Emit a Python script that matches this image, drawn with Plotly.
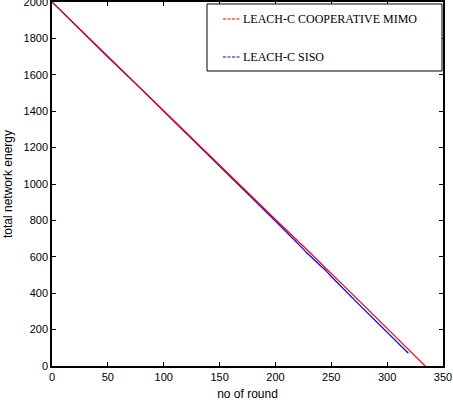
import plotly.graph_objects as go

rounds_mimo = [0, 25, 50, 75, 100, 125, 150, 175, 200, 225, 250, 258, 275, 300, 325, 334]
energy_mimo = [2000, 1850, 1700, 1552, 1402, 1253, 1103, 953, 805, 658, 510, 462, 358, 207, 55, 0]

rounds_siso = [0, 25, 50, 75, 100, 125, 150, 175, 200, 225, 228, 245, 250, 275, 300, 319]
energy_siso = [2000, 1848, 1698, 1550, 1400, 1250, 1100, 950, 797, 642, 622, 525, 492, 337, 185, 70]

legend_labels = ["LEACH-C COOPERATIVE MIMO", "LEACH-C SISO"]
colors = ["#ff0000", "#0000ff"]

fig = go.Figure()
fig.add_trace(go.Scatter(x=rounds_siso, y=energy_siso, mode="lines",
                         line=dict(color=colors[1], width=1.2), showlegend=False))
fig.add_trace(go.Scatter(x=rounds_mimo, y=energy_mimo, mode="lines",
                         line=dict(color=colors[0], width=1.2), showlegend=False))

W, H = 453, 404
L, R, T, B = 52, 10, 2, 38
pw, ph = W - L - R, H - T - B

def px(xp):
    return (xp - L) / pw

def py(yp):
    return 1 - (yp - T) / ph

# legend box
fig.add_shape(type="rect", xref="paper", yref="paper",
              x0=px(207), x1=px(442), y0=py(71), y1=py(4),
              line=dict(color="black", width=1), fillcolor="white")
for i, (lab, yy) in enumerate(zip(legend_labels, [19, 57])):
    fig.add_shape(type="line", xref="paper", yref="paper",
                  x0=px(223), x1=px(240), y0=py(yy), y1=py(yy),
                  line=dict(color=colors[i], width=1, dash="3px,1.5px"))
    fig.add_annotation(x=px(241), y=py(yy), xref="paper", yref="paper",
                       text=lab, showarrow=False, xanchor="left", yanchor="middle",
                       font=dict(family="Liberation Serif", size=12, color="black"))

axis_common = dict(showgrid=False, zeroline=False, showline=True, linecolor="black",
                   linewidth=1.5, mirror="allticks", ticks="inside", ticklen=4,
                   tickcolor="black", ticklabeloverflow="allow", automargin=False,
                   tickfont=dict(family="Liberation Sans", size=11, color="black"))

fig.update_layout(
    width=W, height=H, margin=dict(l=L, r=R, t=T, b=B, autoexpand=False),
    plot_bgcolor="white", paper_bgcolor="white",
    xaxis=dict(range=[0, 350], tickvals=[0, 50, 100, 150, 200, 250, 300, 350],
               title=dict(text="no of round", font=dict(family="Liberation Sans", size=12, color="black"), standoff=8),
               **axis_common),
    yaxis=dict(range=[0, 2000], tickvals=list(range(0, 2001, 200)),
               title=dict(text="total network energy", font=dict(family="Liberation Sans", size=12, color="black"), standoff=8),
               **axis_common),
)

fig.write_html("out.html")
